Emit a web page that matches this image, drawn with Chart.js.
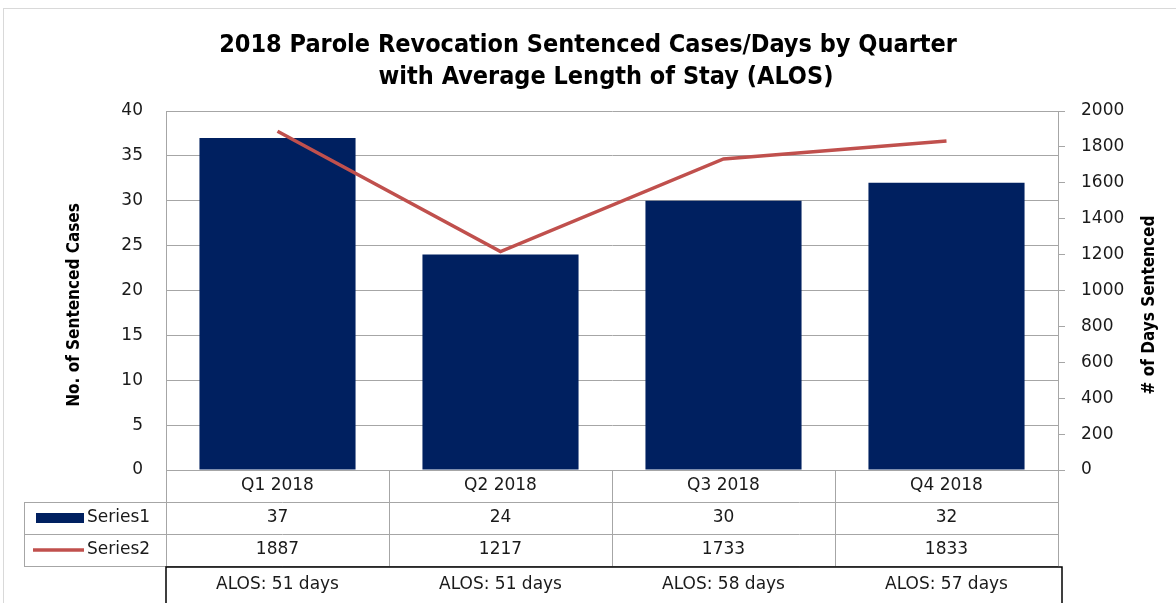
<!DOCTYPE html>
<html>
<head>
<meta charset="utf-8">
<script src="https://cdn.jsdelivr.net/npm/chart.js@4/dist/chart.umd.min.js"></script>
<style>
  html, body { margin: 0; padding: 0; background: #fff; }
  #wrap { position: relative; width: 1176px; height: 603px; }
</style>
</head>
<body>
<div id="wrap"><canvas id="myChart" width="1176" height="603"></canvas></div>
<script>
var quarters = ["Q1 2018", "Q2 2018", "Q3 2018", "Q4 2018"];
var sentencedCases = [37, 24, 30, 32];
var daysSentenced = [1887, 1217, 1733, 1833];
var alosLabels = ["ALOS: 51 days", "ALOS: 51 days", "ALOS: 58 days", "ALOS: 57 days"];
var seriesNames = ["Series1", "Series2"];
var titleLines = ["2018 Parole Revocation Sentenced Cases/Days by Quarter", "with Average Length of Stay (ALOS)"];
var leftTitle = "No. of Sentenced Cases";
var rightTitle = "# of Days Sentenced";

var navy = "#002060";
var red = "#c0504d";
var gridGray = "#a6a6a6";
var textFont = "DejaVu Sans, Verdana, sans-serif";
var headFont = "'Liberation Sans Narrow', 'DejaVu Sans Condensed', 'Liberation Sans', sans-serif";

// draws the frame, title, axis titles and the data table under the plot
var tablePlugin = {
  id: "dataTable",
  beforeDraw: function (chart) {
    var ctx = chart.ctx;
    ctx.save();
    ctx.strokeStyle = "#d9d9d9";
    ctx.lineWidth = 1;
    ctx.strokeRect(3.5, 8.5, 1200, 700);
    ctx.restore();
  },
  afterDraw: function (chart) {
    var ctx = chart.ctx;
    var area = chart.chartArea;
    var xs = chart.scales.x;
    var colW = (area.right - area.left) / quarters.length;
    var rowH = 32;
    var top = area.bottom;

    ctx.save();
    // title
    ctx.fillStyle = "#000";
    ctx.font = "bold 25px " + headFont;
    ctx.textAlign = "center";
    ctx.textBaseline = "middle";
    ctx.fillText(titleLines[0], 588, 45);
    ctx.fillText(titleLines[1], 606, 77);

    // axis titles
    ctx.font = "bold 17px " + headFont;
    ctx.save();
    ctx.translate(75, 305);
    ctx.rotate(-Math.PI / 2);
    ctx.fillText(leftTitle, 0, 0);
    ctx.restore();
    ctx.save();
    ctx.translate(1150, 305);
    ctx.rotate(-Math.PI / 2);
    ctx.fillText(rightTitle, 0, 0);
    ctx.restore();

    // table grid
    ctx.strokeStyle = gridGray;
    ctx.lineWidth = 1;
    ctx.beginPath();
    for (var r = 1; r <= 3; r++) {
      var y = Math.round(top + r * rowH) + 0.5;
      ctx.moveTo(24, y);
      ctx.lineTo(area.right, y);
    }
    ctx.moveTo(24.5, top + rowH);
    ctx.lineTo(24.5, top + 3 * rowH);
    for (var i = 0; i <= quarters.length; i++) {
      var vx = Math.round(area.left + i * colW) + 0.5;
      ctx.moveTo(vx, top);
      ctx.lineTo(vx, top + 3 * rowH);
    }
    ctx.stroke();

    // cell texts
    ctx.fillStyle = "#1a1a1a";
    ctx.font = "17px " + textFont;
    ctx.textAlign = "center";
    for (var j = 0; j < quarters.length; j++) {
      var cx = xs.getPixelForValue(j);
      ctx.fillText(quarters[j], cx, top + rowH * 0.5);
      ctx.fillText(String(sentencedCases[j]), cx, top + rowH * 1.5);
      ctx.fillText(String(daysSentenced[j]), cx, top + rowH * 2.5);
      ctx.fillText(alosLabels[j], cx, top + rowH * 3 + 19);
    }

    // legend keys
    ctx.fillStyle = navy;
    ctx.fillRect(36, top + rowH * 1.5 - 5, 48, 10);
    ctx.strokeStyle = red;
    ctx.lineWidth = 3.5;
    ctx.beginPath();
    ctx.moveTo(33, top + rowH * 2.5);
    ctx.lineTo(84, top + rowH * 2.5);
    ctx.stroke();
    ctx.fillStyle = "#1a1a1a";
    ctx.textAlign = "left";
    ctx.fillText(seriesNames[0], 87, top + rowH * 1.5);
    ctx.fillText(seriesNames[1], 87, top + rowH * 2.5);

    // ALOS box
    ctx.strokeStyle = "#000";
    ctx.lineWidth = 1.5;
    ctx.strokeRect(area.left, top + rowH * 3 + 1, area.right - area.left + 4, 60);
    ctx.restore();
  }
};

var ctx = document.getElementById("myChart");
var myChart = new Chart(ctx, {
  type: "bar",
  data: {
    labels: quarters,
    datasets: [
      {
        type: "line",
        label: seriesNames[1],
        data: daysSentenced,
        yAxisID: "y1",
        borderColor: red,
        backgroundColor: red,
        borderWidth: 3.5,
        pointRadius: 0,
        tension: 0,
        order: 0
      },
      {
        label: seriesNames[0],
        data: sentencedCases,
        yAxisID: "y",
        backgroundColor: navy,
        categoryPercentage: 1.0,
        barPercentage: 0.7,
        order: 1
      }
    ]
  },
  plugins: [tablePlugin],
  options: {
    responsive: false,
    animation: false,
    layout: { padding: { top: 111, bottom: 133, left: 0, right: 0 } },
    plugins: {
      legend: { display: false },
      title: { display: false },
      tooltip: { enabled: false }
    },
    scales: {
      x: { display: false },
      y: {
        position: "left",
        min: 0,
        max: 40,
        ticks: { stepSize: 5, padding: 23, color: "#1a1a1a", font: { family: textFont, size: 17 } },
        grid: { color: gridGray, drawTicks: false },
        border: { color: gridGray },
        afterFit: function (s) { s.width = 166; }
      },
      y1: {
        position: "right",
        min: 0,
        max: 2000,
        ticks: {
          stepSize: 200,
          padding: 16,
          color: "#1a1a1a",
          font: { family: textFont, size: 17 },
          callback: function (v) { return String(v); }
        },
        grid: { drawOnChartArea: false, color: gridGray, tickLength: 7 },
        border: { color: gridGray },
        afterFit: function (s) { s.width = 118; }
      }
    }
  }
});
</script>
</body>
</html>
